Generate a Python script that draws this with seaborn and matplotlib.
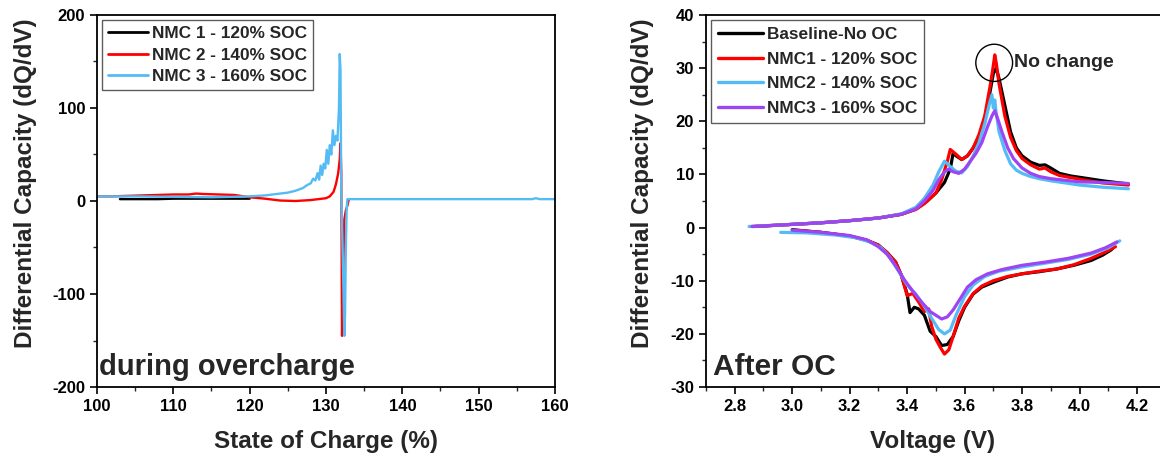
import numpy as np
import pandas as pd
import matplotlib
matplotlib.use("Agg")
import matplotlib.pyplot as plt
from matplotlib.patches import Ellipse
from matplotlib.ticker import MultipleLocator
import seaborn as sns

# ---------------- data: left panel (during overcharge) ----------------
soc_nmc1 = [103, 105, 108, 110, 113, 115, 118, 120]
dqdv_nmc1 = [2, 2, 2, 2.5, 2.5, 2.5, 2.5, 2.5]

soc_nmc2 = [100, 102, 104, 106, 108, 110, 112, 113, 114, 116, 118, 120, 122, 124, 126, 128,
            129, 130, 130.5, 131, 131.3, 131.6, 131.8, 131.9, 132.0, 132.05, 132.1, 132.2,
            132.4, 132.6, 132.8, 133.0]
dqdv_nmc2 = [5, 5, 5.5, 6, 6.5, 7, 7, 8, 7.5, 7, 6.5, 4, 2.5, 0.5, 0, 1,
             2, 3, 5, 10, 18, 30, 45, 62, 30, -50, -145, -100,
             -20, -10, -5, 2]

soc_nmc3 = [100, 105, 110, 115, 118, 120, 122, 124, 125, 126, 127, 127.5, 128, 128.3, 128.6,
            128.9, 129.1, 129.3, 129.5, 129.7, 129.9, 130.1, 130.3, 130.5, 130.7, 130.9, 131.1,
            131.3, 131.5, 131.7, 131.8, 131.9, 132.0, 132.2, 132.4, 132.5, 132.6, 132.7, 132.8,
            135, 140, 150, 157, 157.5, 158, 160]
dqdv_nmc3 = [5, 5, 4.5, 4, 4.5, 5, 6, 8, 9, 11, 14, 17, 19, 24, 22,
             30, 23, 38, 28, 40, 35, 55, 40, 60, 50, 76, 60,
             70, 65, 100, 158, 140, 10, -60, -145, -120, -50, -10, 2,
             2, 2, 2, 2, 3, 2, 2]

left_labels = ["NMC 1 - 120% SOC", "NMC 2 - 140% SOC", "NMC 3 - 160% SOC"]

# ---------------- data: right panel (after OC) ----------------
v_chg_base = [2.87, 3.0, 3.1, 3.2, 3.3, 3.38, 3.43, 3.47, 3.50, 3.53, 3.55, 3.56, 3.57, 3.59, 3.61,
              3.63, 3.65, 3.67, 3.69, 3.70, 3.71, 3.72, 3.74, 3.76, 3.78, 3.80, 3.83, 3.86, 3.88,
              3.90, 3.93, 3.97, 4.02, 4.08, 4.17]
q_chg_base = [0.2, 0.6, 0.9, 1.3, 1.8, 2.5, 3.5, 5, 6.5, 8.5, 11, 14, 13.5, 12.8, 13.5,
              15, 17, 20, 26, 29, 30, 28, 23, 18, 15, 13.5, 12.3, 11.7, 11.8,
              11.2, 10.2, 9.7, 9.3, 8.8, 8.2]
v_dis_base = [3.00, 3.1, 3.2, 3.26, 3.30, 3.33, 3.36, 3.38, 3.40, 3.41, 3.425, 3.44, 3.46, 3.48,
              3.50, 3.52, 3.54, 3.56, 3.58, 3.60, 3.63, 3.66, 3.70, 3.75, 3.80, 3.86, 3.92, 3.98,
              4.04, 4.08, 4.11, 4.12]
q_dis_base = [-0.4, -0.9, -1.6, -2.4, -3.3, -4.7, -6.5, -9, -12.5, -16, -15, -15.3, -16.5, -19.5,
              -20.5, -22.2, -22, -20.5, -17.5, -15, -12.5, -11.2, -10.3, -9.3, -8.7, -8.3, -7.8, -7.1,
              -6.2, -5.2, -4.2, -3.6]

v_chg_n1 = [2.86, 3.0, 3.1, 3.2, 3.3, 3.38, 3.43, 3.46, 3.50, 3.52, 3.54, 3.55, 3.57, 3.59, 3.61,
            3.63, 3.65, 3.67, 3.69, 3.70, 3.705, 3.71, 3.72, 3.74, 3.76, 3.78, 3.80, 3.83, 3.86,
            3.88, 3.90, 3.93, 3.97, 4.02, 4.08, 4.17]
q_chg_n1 = [0.2, 0.6, 0.9, 1.3, 1.8, 2.5, 3.4, 4.5, 6.5, 9, 12.5, 14.7, 13.8, 12.8, 13.5,
            15, 17.5, 21, 27, 30.5, 32.5, 31, 27, 21, 17, 14.5, 13, 11.8, 11.0,
            11.2, 10.5, 9.8, 9.4, 8.9, 8.4, 8.0]
v_dis_n1 = [3.01, 3.1, 3.2, 3.26, 3.30, 3.33, 3.36, 3.38, 3.40, 3.42, 3.44, 3.46, 3.475, 3.485,
            3.50, 3.515, 3.53, 3.545, 3.56, 3.58, 3.60, 3.63, 3.66, 3.70, 3.75, 3.80, 3.86, 3.92,
            3.98, 4.04, 4.09, 4.125]
q_dis_n1 = [-0.5, -0.9, -1.6, -2.4, -3.3, -4.7, -6.5, -9, -12.8, -12.4, -14, -15.8, -15.3, -18.5,
            -21, -22.5, -23.8, -23, -20.5, -17, -14.8, -12.4, -11, -10, -9.2, -8.7, -8.2, -7.8,
            -7.0, -5.8, -4.6, -3.6]

v_chg_n2 = [2.85, 3.0, 3.1, 3.2, 3.3, 3.38, 3.43, 3.46, 3.49, 3.51, 3.53, 3.55, 3.57, 3.59, 3.61,
            3.63, 3.65, 3.67, 3.685, 3.695, 3.70, 3.705, 3.71, 3.72, 3.74, 3.76, 3.78, 3.80, 3.83,
            3.86, 3.90, 3.95, 4.0, 4.08, 4.17]
q_chg_n2 = [0.2, 0.6, 0.9, 1.3, 1.8, 2.6, 3.8, 5.5, 8, 10.5, 12.5, 11.5, 10.6, 10.3, 11.5,
            13.5, 16, 19.5, 23, 25, 22.5, 24, 21.5, 18, 14.5, 12, 10.8, 10.2, 9.6,
            9.2, 8.8, 8.4, 8.0, 7.6, 7.3]
v_dis_n2 = [2.96, 3.05, 3.15, 3.22, 3.27, 3.31, 3.34, 3.37, 3.40, 3.43, 3.46, 3.49, 3.51, 3.53,
            3.55, 3.57, 3.60, 3.63, 3.67, 3.72, 3.80, 3.88, 3.96, 4.04, 4.10, 4.14]
q_dis_n2 = [-0.9, -1.0, -1.4, -1.9, -2.7, -3.8, -5.6, -8.2, -10.8, -12.5, -14.8, -17.5, -19.2, -20,
            -19.3, -16.5, -13, -10.8, -9.2, -8.2, -7.4, -6.7, -6.0, -5.0, -3.8, -2.5]

v_chg_n3 = [2.86, 3.0, 3.1, 3.2, 3.3, 3.38, 3.43, 3.46, 3.49, 3.51, 3.53, 3.545, 3.56, 3.58, 3.60,
            3.62, 3.64, 3.66, 3.68, 3.695, 3.705, 3.715, 3.73, 3.75, 3.77, 3.80, 3.83, 3.86, 3.90,
            3.95, 4.0, 4.08, 4.17]
q_chg_n3 = [0.2, 0.6, 0.9, 1.3, 1.8, 2.5, 3.5, 5, 7, 9, 10.5, 11, 10.5, 10.2, 11,
            12.5, 14, 16, 19, 21, 22, 20.5, 18, 15, 13, 11.2, 10.2, 9.6, 9.2,
            8.9, 8.6, 8.5, 8.3]
v_dis_n3 = [3.0, 3.1, 3.2, 3.26, 3.30, 3.33, 3.36, 3.39, 3.42, 3.45, 3.48, 3.50, 3.52, 3.54,
            3.56, 3.58, 3.61, 3.64, 3.68, 3.73, 3.80, 3.88, 3.96, 4.04, 4.09, 4.13]
q_dis_n3 = [-0.5, -0.9, -1.5, -2.3, -3.6, -5.0, -7.2, -9.8, -12, -14, -15.8, -16.5, -17.2, -16.8,
            -15.5, -13.8, -11.2, -9.8, -8.7, -7.9, -7.1, -6.5, -5.8, -4.8, -3.8, -2.7]

right_labels = ["Baseline-No OC", "NMC1 - 120% SOC", "NMC2 - 140% SOC", "NMC3 - 160% SOC"]

# annotation location (peak that did not change)
peak_v, peak_q = 3.703, 31.0

# ---------------- styling ----------------
sns.set_theme(style="ticks")
plt.rcParams['font.family'] = ['Liberation Sans', 'DejaVu Sans']
plt.rcParams['font.weight'] = 'bold'
plt.rcParams['axes.labelweight'] = 'bold'
plt.rcParams['axes.unicode_minus'] = False

BLACK, RED, BLUE, PURPLE = "#000000", "#ff0000", "#55bbf5", "#9d45f2"

fig = plt.figure(figsize=(11.6, 4.54), dpi=100)
axL = fig.add_axes([97 / 1160, 1 - 387 / 454, (555 - 97) / 1160, (387 - 15) / 454])
axR = fig.add_axes([706 / 1160, 1 - 387 / 454, (1160 - 706) / 1160, (387 - 15) / 454])

# left panel
df_left = pd.concat([
    pd.DataFrame({"soc": soc_nmc1, "dqdv": dqdv_nmc1, "series": left_labels[0]}),
    pd.DataFrame({"soc": soc_nmc2, "dqdv": dqdv_nmc2, "series": left_labels[1]}),
    pd.DataFrame({"soc": soc_nmc3, "dqdv": dqdv_nmc3, "series": left_labels[2]}),
], ignore_index=True)
sns.lineplot(data=df_left, x="soc", y="dqdv", hue="series", hue_order=left_labels,
             palette=[BLACK, RED, BLUE], sort=False, estimator=None, linewidth=1.7,
             ax=axL)

axL.set_xlim(100, 160)
axL.set_ylim(-200, 200)
axL.xaxis.set_major_locator(MultipleLocator(10))
axL.xaxis.set_minor_locator(MultipleLocator(5))
axL.yaxis.set_major_locator(MultipleLocator(100))
axL.yaxis.set_minor_locator(MultipleLocator(50))
axL.set_xlabel("State of Charge (%)", fontsize=17.5, fontweight='bold', labelpad=12)
axL.set_ylabel("Differential Capacity (dQ/dV)", fontsize=17.5, fontweight='bold')
axL.yaxis.set_label_coords(-0.13, 0.548)
axL.text(0.005, 0.015, "during overcharge", transform=axL.transAxes, fontsize=21,
         fontweight='bold', ha='left', va='bottom')
legL = axL.legend(loc="upper left", fontsize=12.4, frameon=True, fancybox=False,
                  edgecolor="#333333", handlelength=2.3, handletextpad=0.25,
                  borderpad=0.35, labelspacing=0.38, borderaxespad=0.3)
legL.get_frame().set_linewidth(1.0)
for t in legL.get_texts():
    t.set_fontweight('bold')
for l in legL.get_lines():
    l.set_linewidth(2.0)

# right panel
def branch(v, q, label, part):
    return pd.DataFrame({"v": v, "q": q, "series": label, "branch": part})

df_right = pd.concat([
    branch(v_chg_base, q_chg_base, right_labels[0], "charge"),
    branch(v_dis_base, q_dis_base, right_labels[0], "discharge"),
    branch(v_chg_n1, q_chg_n1, right_labels[1], "charge"),
    branch(v_dis_n1, q_dis_n1, right_labels[1], "discharge"),
    branch(v_chg_n2, q_chg_n2, right_labels[2], "charge"),
    branch(v_dis_n2, q_dis_n2, right_labels[2], "discharge"),
    branch(v_chg_n3, q_chg_n3, right_labels[3], "charge"),
    branch(v_dis_n3, q_dis_n3, right_labels[3], "discharge"),
], ignore_index=True)
sns.lineplot(data=df_right, x="v", y="q", hue="series", hue_order=right_labels,
             units="branch", palette=[BLACK, RED, BLUE, PURPLE], sort=False,
             estimator=None, linewidth=2.3, ax=axR)

axR.set_xlim(2.70, 4.28)
axR.set_ylim(-30, 40)
axR.xaxis.set_major_locator(MultipleLocator(0.2))
axR.xaxis.set_minor_locator(MultipleLocator(0.1))
axR.yaxis.set_major_locator(MultipleLocator(10))
axR.yaxis.set_minor_locator(MultipleLocator(5))
axR.xaxis.set_major_formatter(matplotlib.ticker.FormatStrFormatter('%.1f'))
axR.spines['right'].set_visible(False)
axR.set_xlabel("Voltage (V)", fontsize=17.5, fontweight='bold', labelpad=12)
axR.set_ylabel("Differential Capacity (dQ/dV)", fontsize=17.5, fontweight='bold')
axR.yaxis.set_label_coords(-0.115, 0.548)
axR.text(0.015, 0.015, "After OC", transform=axR.transAxes, fontsize=21.5,
         fontweight='bold', ha='left', va='bottom')
legR = axR.legend(loc="upper left", fontsize=12.4, frameon=True, fancybox=False,
                  edgecolor="#333333", handlelength=2.6, handletextpad=0.25,
                  borderpad=0.4, labelspacing=0.55, borderaxespad=0.3)
legR.get_frame().set_linewidth(1.0)
for t in legR.get_texts():
    t.set_fontweight('bold')
for l in legR.get_lines():
    l.set_linewidth(2.4)

axR.add_patch(Ellipse((peak_v, peak_q), width=0.128, height=7.0, fill=False,
                      edgecolor="black", linewidth=1.0, zorder=5))
axR.text(peak_v + 0.068, peak_q, "No change", fontsize=14, fontweight='bold',
         ha='left', va='center')

for ax in (axL, axR):
    for s in ax.spines.values():
        s.set_linewidth(1.3)
        s.set_color("black")
    ax.tick_params(which='major', direction='out', length=5, width=1.2, labelsize=12,
                   colors='black')
    ax.tick_params(which='minor', direction='out', length=3, width=1.0)
    for lab in ax.get_xticklabels() + ax.get_yticklabels():
        lab.set_fontweight('bold')
    ax.grid(False)

fig.savefig("out.png", dpi=100)
